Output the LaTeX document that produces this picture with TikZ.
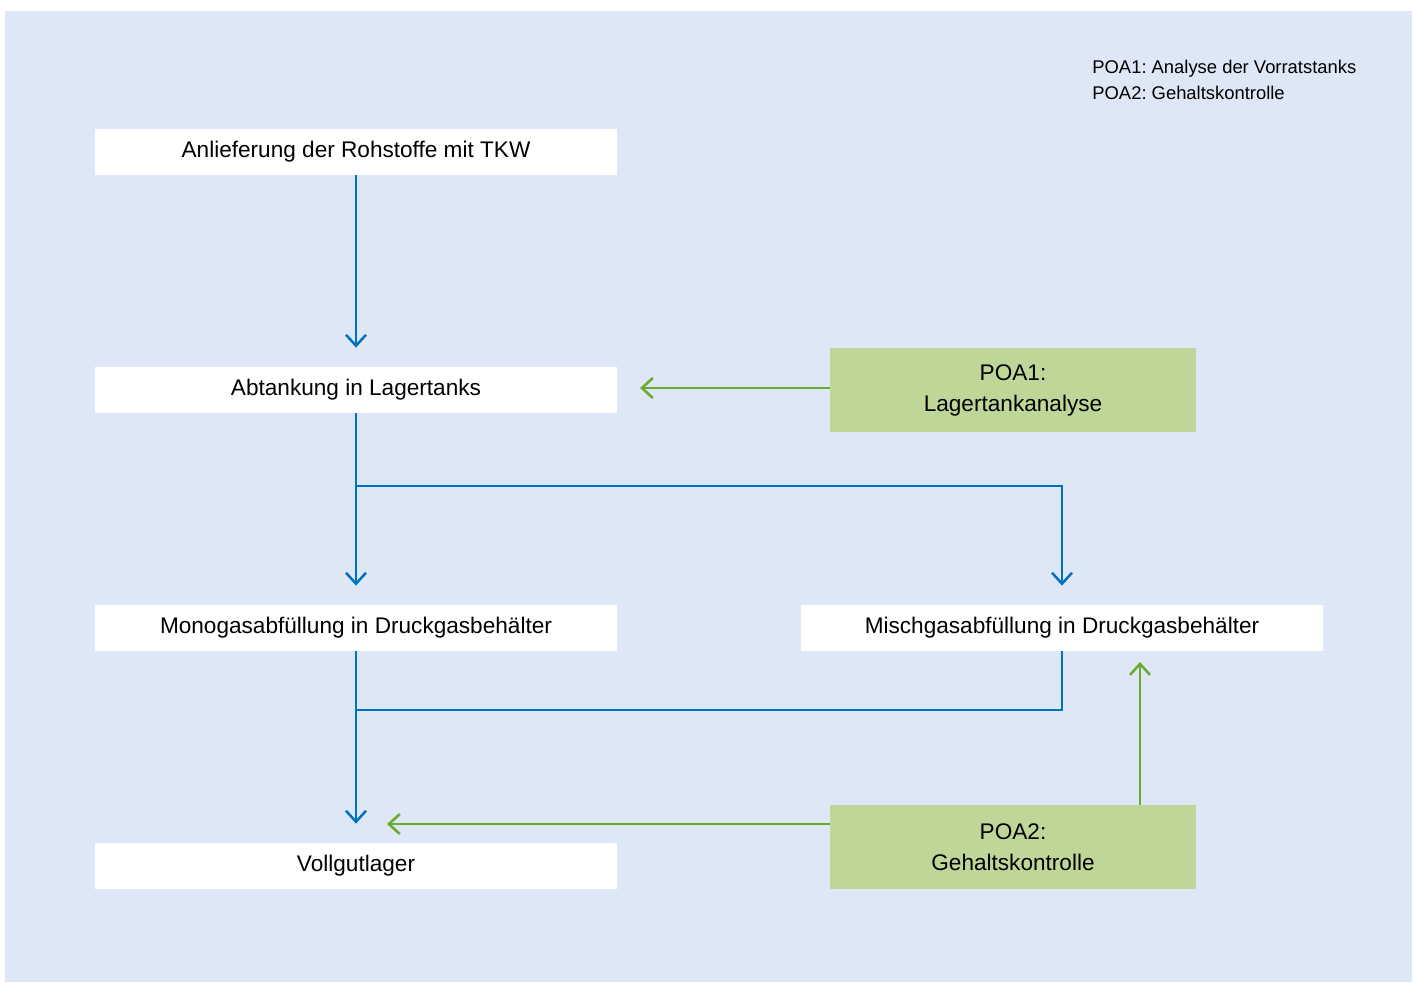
\documentclass[tikz,border=0pt]{standalone}
\usepackage{fontspec}
\setmainfont{Liberation Sans}
\usetikzlibrary{arrows.meta}

\definecolor{bgblue}{RGB}{222,231,246}
\definecolor{flowblue}{RGB}{0,114,190}
\definecolor{poagreen}{RGB}{106,170,46}
\definecolor{poafill}{RGB}{190,214,151}

\tikzset{
  stepbox/.style={fill=white, minimum width=261pt, minimum height=23pt,
    inner sep=0pt, font=\fontsize{11.3}{13}\selectfont},
  poabox/.style={fill=poafill, minimum width=183pt, minimum height=42pt,
    inner sep=0pt, align=center, font=\fontsize{11.3}{15.5}\selectfont},
  line/.style={draw=flowblue, line width=1.25pt},
  flow/.style={line, -{Straight Barb[length=5.5pt,width=10pt]}, shorten >=9.5pt},
  check/.style={draw=poagreen, line width=1.25pt, -{Straight Barb[length=5.5pt,width=10pt]}}
}

\begin{document}
\frenchspacing
\begin{tikzpicture}[x=0.5pt, y=-0.5pt]
\useasboundingbox (0,0) rectangle (1414,982);
\fill[bgblue] (5,11) rectangle (1412,982);

% legend
\node[anchor=north west, align=left, inner sep=0pt,
      font=\fontsize{9.2}{13}\selectfont] (legend) at (1092,60)
  {POA1: Analyse der Vorratstanks\\POA2: Gehaltskontrolle};

% process steps
\node[stepbox] (anlief) at (356,152) {Anlieferung der Rohstoffe mit TKW};
\node[stepbox] (abtank) at (356,390) {Abtankung in Lagertanks};
\node[stepbox] (mono)   at (356,628) {Monogasabfüllung in Druckgasbehälter};
\node[stepbox] (misch)  at (1062,628) {Mischgasabfüllung in Druckgasbehälter};
\node[stepbox] (vollgut) at (356,866) {Vollgutlager};

% checkpoints
\node[poabox] (poa1) at (1013,390) {POA1:\\Lagertankanalyse};
\node[poabox] (poa2) at (1013,847) {POA2:\\Gehaltskontrolle};

\coordinate (split) at (356,486);
\coordinate (join) at (356,710);
\coordinate (poa1in) at (640,388);
\coordinate (poa2in) at (387,824);
\coordinate (poa2up) at (1140,662);

% material flow
\draw[flow] (anlief) -- (abtank);
\draw[flow] (abtank) -- (mono);
\draw[flow] (split) -| (misch.north);
\draw[flow] (mono) -- (vollgut);
\draw[line] (misch.south) |- (join);

% analyses
\draw[check] (poa1in -| poa1.west) -- (poa1in);
\draw[check] (poa2in -| poa2.west) -- (poa2in);
\draw[check] (poa2.north -| poa2up) -- (poa2up);
\end{tikzpicture}
\end{document}
